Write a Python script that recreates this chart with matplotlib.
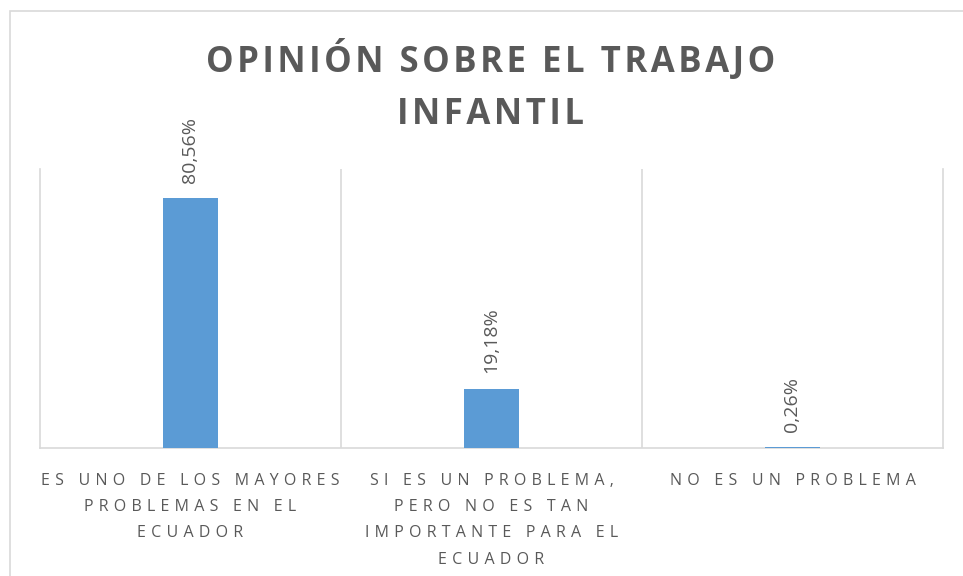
import numpy as np
import matplotlib.pyplot as plt
from matplotlib.patches import Rectangle

categorias = ['ES UNO DE LOS MAYORES\nPROBLEMAS EN EL\nECUADOR',
              'SI ES UN PROBLEMA,\nPERO NO ES TAN\nIMPORTANTE PARA EL\nECUADOR',
              'NO ES UN PROBLEMA']
valores = [80.56, 19.18, 0.26]
etiquetas = ['80,56%', '19,18%', '0,26%']

gris = '#595959'
azul = '#5B9BD5'
linea = '#D9D9D9'

def espaciar(txt, sep='\u200a'):
    # letter spacing a mano
    return '\n'.join(sep.join(l) for l in txt.split('\n'))

plt.rcParams['font.family'] = ['Open Sans', 'DejaVu Sans']

fig = plt.figure(figsize=(9.63, 5.76), dpi=100)
ax = fig.add_axes([40/963, 128/576, 903/963, 279/576])

# borde exterior del grafico
fig.patches.append(Rectangle((10/963, -0.1), 1.2, 1 - 11/576 + 0.1, transform=fig.transFigure,
                             fill=False, edgecolor=linea, linewidth=1.2, clip_on=False))

x = np.arange(len(categorias))
ax.bar(x, valores, width=0.183, color=azul, zorder=3)

for xi, v, t in zip(x, valores, etiquetas):
    ax.annotate(t, (xi, v), xytext=(0, 11), textcoords='offset points', rotation=90,
                ha='center', va='bottom', color=gris, fontsize=14)

ax.set_xlim(-0.5, 2.5)
ax.set_ylim(0, 90)
ax.set_yticks([])
ax.set_xticks(x)
ax.set_xticklabels([espaciar(c, '\u2009\u2009') for c in categorias], color=gris, fontsize=11.5,
                   linespacing=1.85)
ax.tick_params(axis='x', length=0, pad=18)

for b in [0.5, 1.5]:
    ax.axvline(b, color=linea, linewidth=1.2, zorder=1)
ax.spines['top'].set_visible(False)
for s in ['left', 'right', 'bottom']:
    ax.spines[s].set_color(linea)
    ax.spines[s].set_linewidth(1.2)

fig.text(0.509, 0.85, espaciar('OPINIÓN SOBRE EL TRABAJO\nINFANTIL'), ha='center', va='center',
         fontsize=25, fontweight='bold', color=gris, linespacing=1.6)

fig.savefig('out.png', dpi=100)
